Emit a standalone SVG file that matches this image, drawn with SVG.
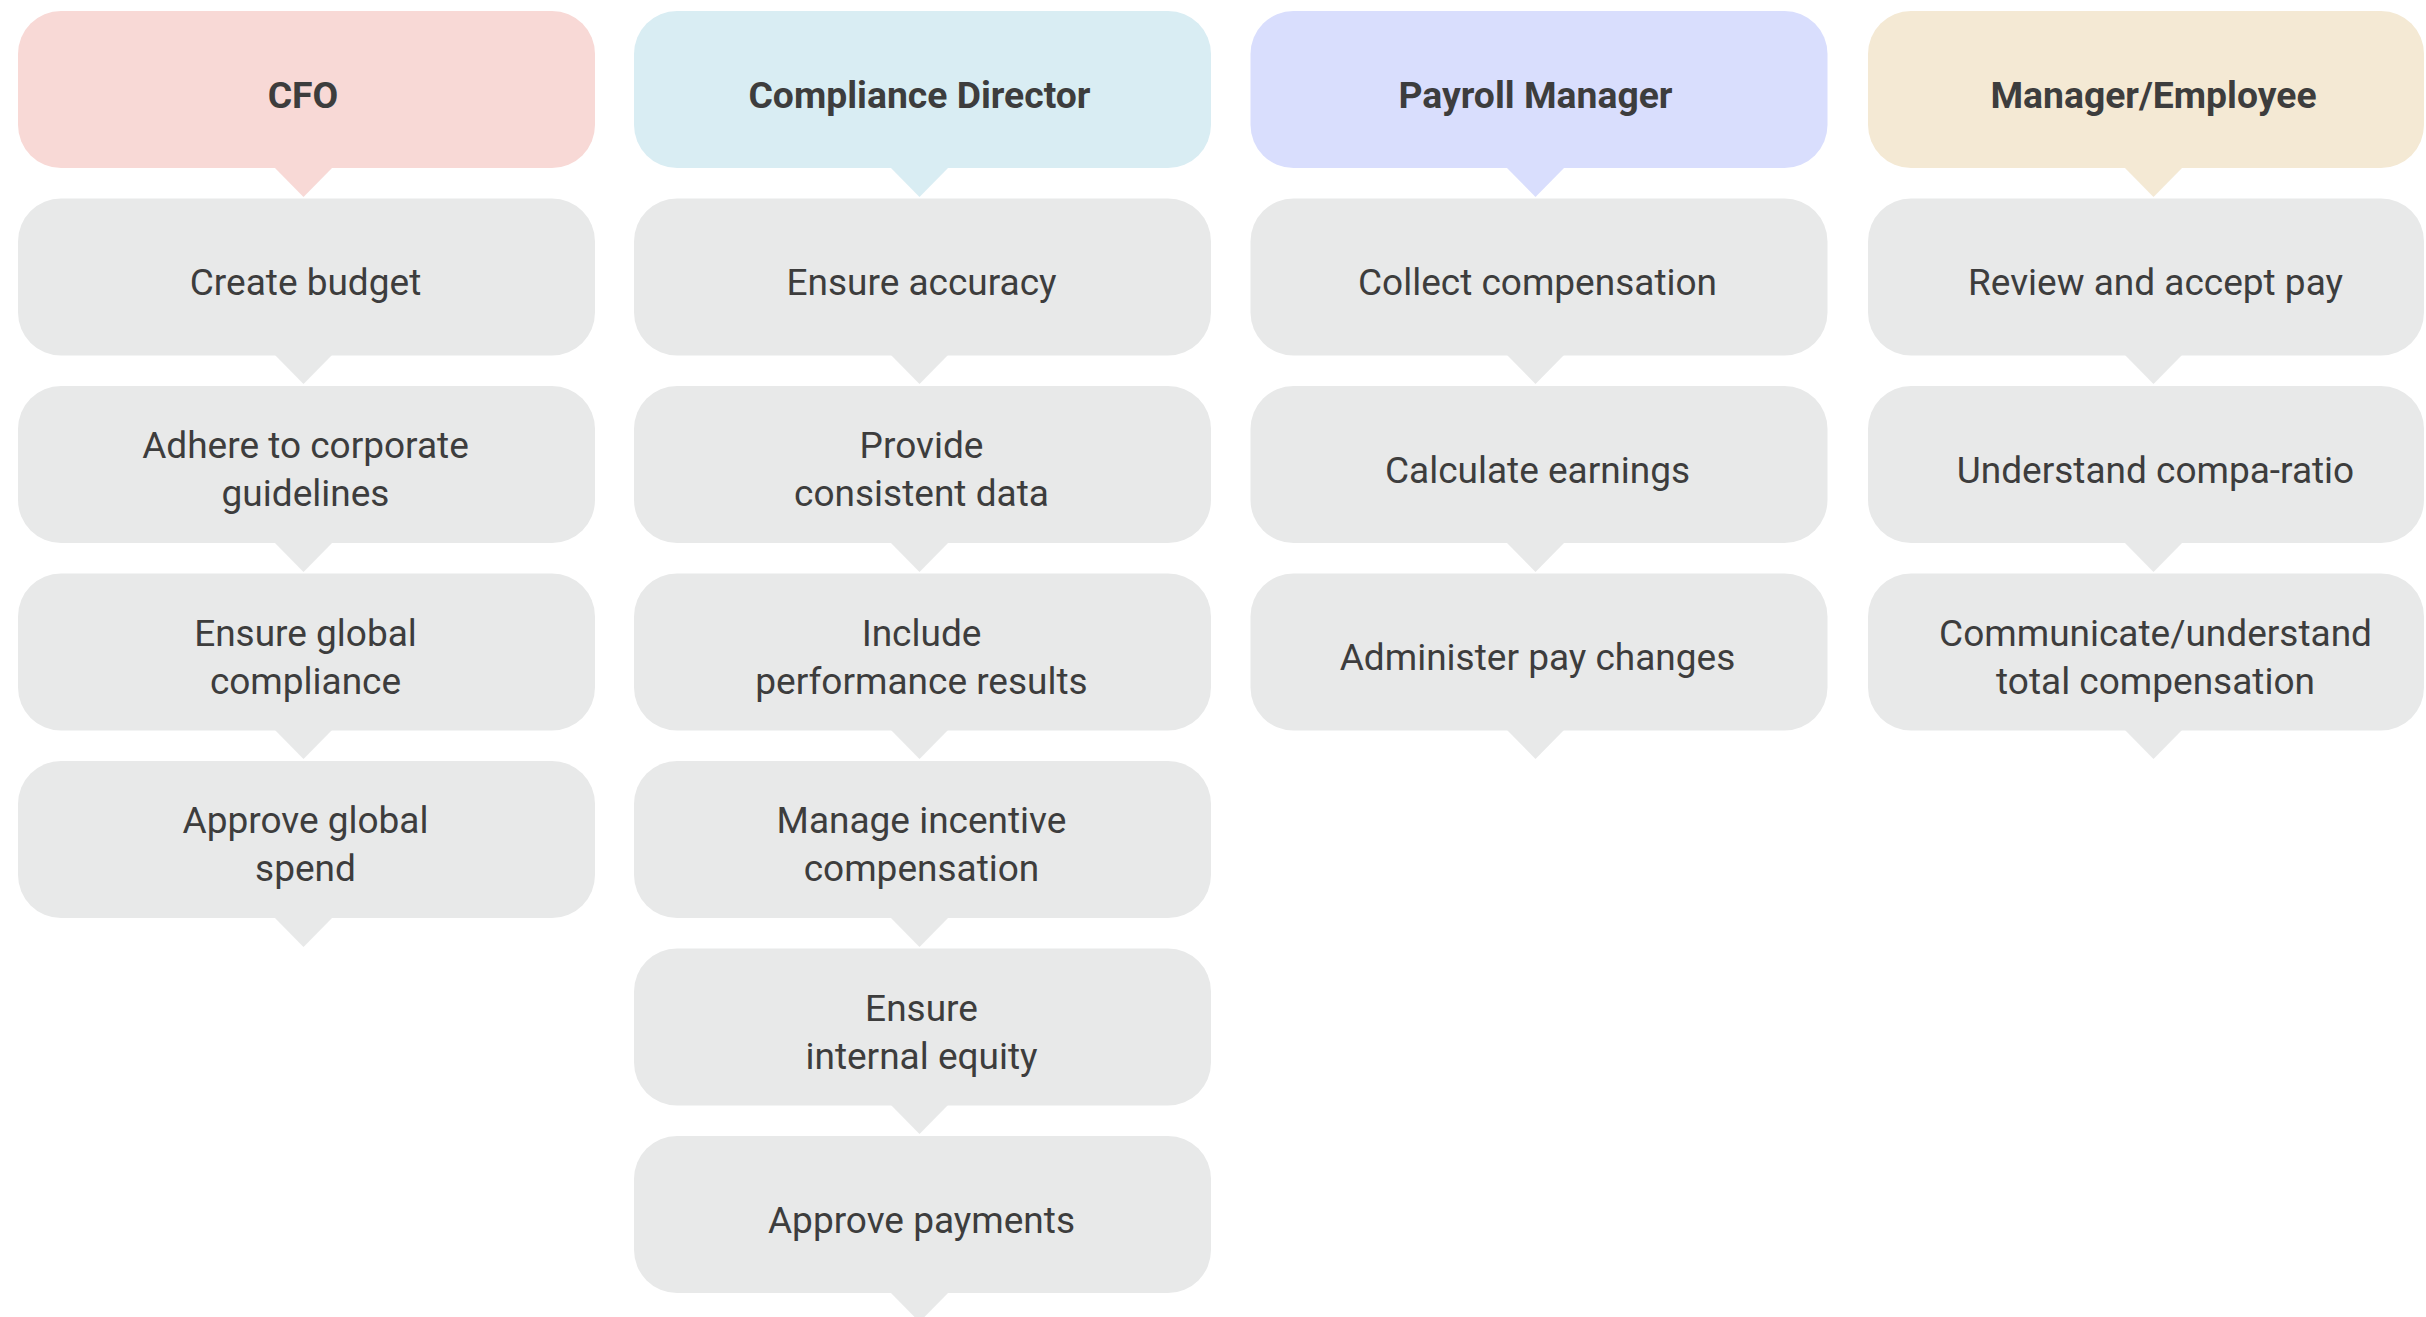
<svg xmlns="http://www.w3.org/2000/svg" width="2426" height="1317" viewBox="0 0 2426 1317">
<style>
.box{fill:#E8E9E9}
.h1{fill:#F8D9D6}.h2{fill:#D9EDF3}.h3{fill:#D9DEFD}.h4{fill:#F4E9D4}
text{font-family:Roboto,"Liberation Sans",sans-serif;fill:#3d3d3d;text-anchor:middle}
.ht{font-weight:700;font-size:37.3px}
.bt{font-size:37px}
.p{fill:#E8E9E9}
.p1{fill:#F8D9D6}.p2{fill:#D9EDF3}.p3{fill:#D9DEFD}.p4{fill:#F4E9D4}
</style>
<rect width="2426" height="1317" fill="#ffffff"/>
<g id="connectors">
<polygon class="p1" points="274,167 333,167 303.5,197"/>
<polygon class="p" points="274,354 333,354 303.5,384"/>
<polygon class="p" points="274,542 333,542 303.5,572"/>
<polygon class="p" points="274,729 333,729 303.5,759"/>
<polygon class="p" points="274,917 333,917 303.5,947"/>
<polygon class="p2" points="890,167 949,167 919.5,197"/>
<polygon class="p" points="890,354 949,354 919.5,384"/>
<polygon class="p" points="890,542 949,542 919.5,572"/>
<polygon class="p" points="890,729 949,729 919.5,759"/>
<polygon class="p" points="890,917 949,917 919.5,947"/>
<polygon class="p" points="890,1104 949,1104 919.5,1134"/>
<polygon class="p" points="890,1292 949,1292 919.5,1322"/>
<polygon class="p3" points="1506,167 1565,167 1535.5,197"/>
<polygon class="p" points="1506,354 1565,354 1535.5,384"/>
<polygon class="p" points="1506,542 1565,542 1535.5,572"/>
<polygon class="p" points="1506,729 1565,729 1535.5,759"/>
<polygon class="p4" points="2124,167 2183,167 2153.5,197"/>
<polygon class="p" points="2124,354 2183,354 2153.5,384"/>
<polygon class="p" points="2124,542 2183,542 2153.5,572"/>
<polygon class="p" points="2124,729 2183,729 2153.5,759"/>
</g>
<g id="cfo"><rect class="h1" x="18" y="11" width="577" height="157" rx="43"/><text class="ht" x="303" y="108">CFO</text></g>
<g id="create-budget"><rect class="box" x="18" y="198.5" width="577" height="157" rx="43"/><text class="bt" x="305.5" y="295">Create budget</text></g>
<g id="adhere-guidelines"><rect class="box" x="18" y="386" width="577" height="157" rx="43"/><text class="bt" x="305.5" y="458">Adhere to corporate</text><text class="bt" x="305.5" y="506">guidelines</text></g>
<g id="ensure-global-compliance"><rect class="box" x="18" y="573.5" width="577" height="157" rx="43"/><text class="bt" x="305.5" y="645.5">Ensure global</text><text class="bt" x="305.5" y="693.5">compliance</text></g>
<g id="approve-global-spend"><rect class="box" x="18" y="761" width="577" height="157" rx="43"/><text class="bt" x="305.5" y="833">Approve global</text><text class="bt" x="305.5" y="881">spend</text></g>

<g id="compliance-director"><rect class="h2" x="634" y="11" width="577" height="157" rx="43"/><text class="ht" x="919.5" y="108">Compliance Director</text></g>
<g id="ensure-accuracy"><rect class="box" x="634" y="198.5" width="577" height="157" rx="43"/><text class="bt" x="921.5" y="295">Ensure accuracy</text></g>
<g id="provide-consistent-data"><rect class="box" x="634" y="386" width="577" height="157" rx="43"/><text class="bt" x="921.5" y="458">Provide</text><text class="bt" x="921.5" y="506">consistent data</text></g>
<g id="include-performance-results"><rect class="box" x="634" y="573.5" width="577" height="157" rx="43"/><text class="bt" x="921.5" y="645.5">Include</text><text class="bt" x="921.5" y="693.5">performance results</text></g>
<g id="manage-incentive-compensation"><rect class="box" x="634" y="761" width="577" height="157" rx="43"/><text class="bt" x="921.5" y="833">Manage incentive</text><text class="bt" x="921.5" y="881">compensation</text></g>
<g id="ensure-internal-equity"><rect class="box" x="634" y="948.5" width="577" height="157" rx="43"/><text class="bt" x="921.5" y="1020.5">Ensure</text><text class="bt" x="921.5" y="1068.5">internal equity</text></g>
<g id="approve-payments"><rect class="box" x="634" y="1136" width="577" height="157" rx="43"/><text class="bt" x="921.5" y="1232.5">Approve payments</text></g>

<g id="payroll-manager"><rect class="h3" x="1250.5" y="11" width="577" height="157" rx="43"/><text class="ht" x="1535.5" y="108">Payroll Manager</text></g>
<g id="collect-compensation"><rect class="box" x="1250.5" y="198.5" width="577" height="157" rx="43"/><text class="bt" x="1537.5" y="295">Collect compensation</text></g>
<g id="calculate-earnings"><rect class="box" x="1250.5" y="386" width="577" height="157" rx="43"/><text class="bt" x="1537.5" y="482.5">Calculate earnings</text></g>
<g id="administer-pay-changes"><rect class="box" x="1250.5" y="573.5" width="577" height="157" rx="43"/><text class="bt" x="1537.5" y="670">Administer pay changes</text></g>

<g id="manager-employee"><rect class="h4" x="1868" y="11" width="556" height="157" rx="43"/><text class="ht" x="2153.5" y="108">Manager/Employee</text></g>
<g id="review-accept-pay"><rect class="box" x="1868" y="198.5" width="556" height="157" rx="43"/><text class="bt" x="2155.5" y="295">Review and accept pay</text></g>
<g id="understand-compa-ratio"><rect class="box" x="1868" y="386" width="556" height="157" rx="43"/><text class="bt" x="2155.5" y="482.5">Understand compa-ratio</text></g>
<g id="communicate-total-compensation"><rect class="box" x="1868" y="573.5" width="556" height="157" rx="43"/><text class="bt" x="2155.5" y="645.5">Communicate/understand</text><text class="bt" x="2155.5" y="693.5">total compensation</text></g>
</svg>
